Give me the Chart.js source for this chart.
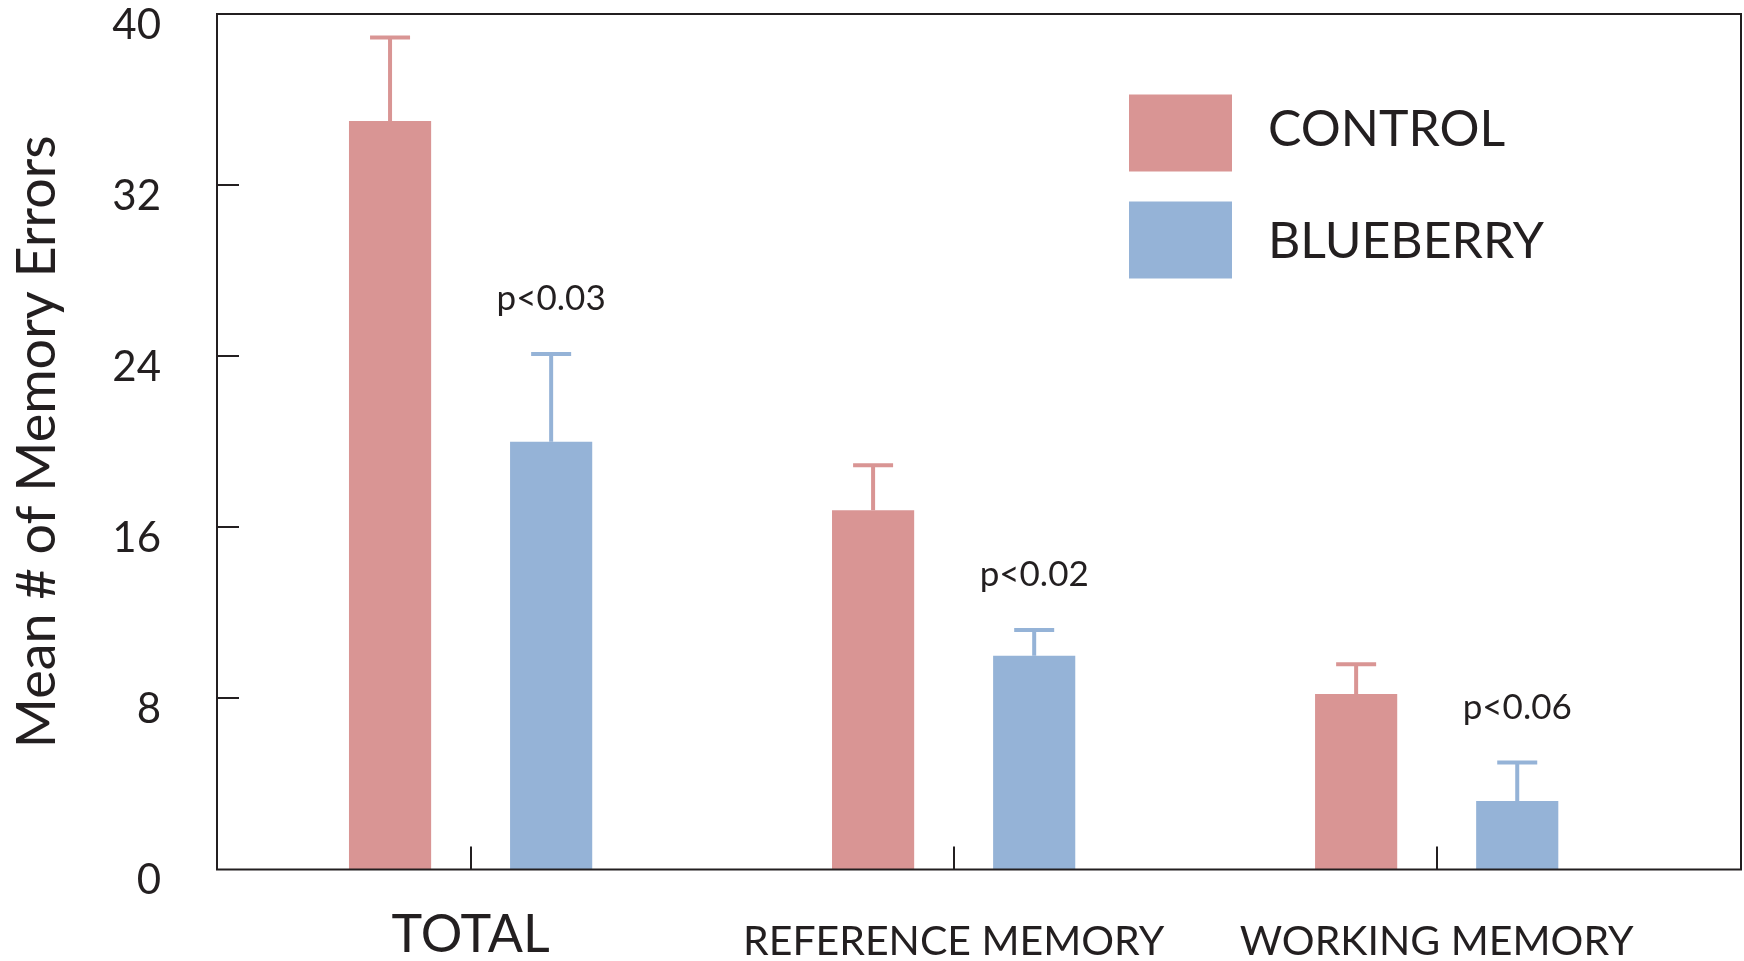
<!DOCTYPE html>
<html>
<head>
<meta charset="utf-8">
<script src="https://cdn.jsdelivr.net/npm/chart.js@4.4.0/dist/chart.umd.min.js"></script>
<style>
    html, body { margin: 0; padding: 0; background: #fff; }
    #wrap { width: 1744px; height: 961px; position: relative; }
</style>
</head>
<body>
<div id="wrap"><canvas id="grafico"></canvas></div>
<script>
const categories = ['TOTAL', 'REFERENCE MEMORY', 'WORKING MEMORY'];
const controlMeans = [35, 16.8, 8.2];
const controlErrors = [3.9, 2.1, 1.4];
const blueberryMeans = [20, 10, 3.2];
const blueberryErrors = [4.1, 1.2, 1.8];
const pValues = ['p<0.03', 'p<0.02', 'p<0.06'];
const yTicks = [0, 8, 16, 24, 32, 40];

const textColor = '#231f20';
const fontFamily = 'Lato, "Open Sans", sans-serif';

// barras de erro + valores de p
const errorBars = {
    id: 'errorBars',
    afterDatasetsDraw(chart) {
        const ctx = chart.ctx;
        const y = chart.scales.y;
        chart.data.datasets.forEach((ds, di) => {
            const meta = chart.getDatasetMeta(di);
            meta.data.forEach((bar, i) => {
                const top = y.getPixelForValue(ds.data[i].y + ds.errors[i]);
                ctx.save();
                ctx.strokeStyle = ds.backgroundColor;
                ctx.lineWidth = 4;
                ctx.beginPath();
                ctx.moveTo(bar.x, bar.y);
                ctx.lineTo(bar.x, top);
                ctx.moveTo(bar.x - 20, top);
                ctx.lineTo(bar.x + 20, top);
                ctx.stroke();
                if (ds.pLabels) {
                    ctx.fillStyle = textColor;
                    ctx.font = '35px ' + fontFamily;
                    ctx.textAlign = 'center';
                    ctx.textBaseline = 'alphabetic';
                    ctx.fillText(ds.pLabels[i], bar.x, top - 44);
                }
                ctx.restore();
            });
        });
    }
};

// moldura e marcas internas
const frame = {
    id: 'frame',
    afterDraw(chart) {
        const { ctx, chartArea: a } = chart;
        const x = chart.scales.x;
        const y = chart.scales.y;
        ctx.save();
        ctx.strokeStyle = textColor;
        ctx.lineWidth = 2;
        ctx.strokeRect(a.left, a.top, a.right - a.left, a.bottom - a.top);
        ctx.beginPath();
        yTicks.slice(1, -1).forEach(v => {
            const py = Math.round(y.getPixelForValue(v));
            ctx.moveTo(a.left, py);
            ctx.lineTo(a.left + 22, py);
        });
        categories.forEach((c, i) => {
            const px = Math.round(x.getPixelForValue(i + 1));
            ctx.moveTo(px, a.bottom);
            ctx.lineTo(px, a.bottom - 23);
        });
        ctx.stroke();

        // legenda
        chart.data.datasets.forEach((ds, i) => {
            const top = 94.5 + i * 107;
            ctx.fillStyle = ds.backgroundColor;
            ctx.fillRect(1129, top, 103, 77);
            ctx.fillStyle = textColor;
            ctx.font = '50px ' + fontFamily;
            ctx.textAlign = 'left';
            ctx.textBaseline = 'alphabetic';
            ctx.fillText(ds.label, 1268, 146 + i * 112);
        });
        ctx.restore();
    }
};

const ctx = document.getElementById('grafico').getContext('2d');
new Chart(ctx, {
    type: 'bar',
    data: {
        datasets: [
            {
                label: 'CONTROL',
                data: controlMeans.map((v, i) => ({ x: i + 1, y: v })),
                errors: controlErrors,
                backgroundColor: '#d99594',
            },
            {
                label: 'BLUEBERRY',
                data: blueberryMeans.map((v, i) => ({ x: i + 1, y: v })),
                errors: blueberryErrors,
                pLabels: pValues,
                backgroundColor: '#95b3d7',
            },
        ],
    },
    options: {
        responsive: true,
        maintainAspectRatio: false,
        animation: false,
        categoryPercentage: 0.667,
        barPercentage: 0.51,
        layout: { padding: { top: 14, right: 3, left: 0, bottom: 0 } },
        plugins: {
            legend: { display: false },
            tooltip: { enabled: false },
        },
        scales: {
            x: {
                type: 'linear',
                offset: false,
                min: 0.475,
                max: 3.63,
                grid: { display: false, drawTicks: false, offset: false },
                border: { display: false },
                afterBuildTicks: s => { s.ticks = categories.map((c, i) => ({ value: i + 1 })); },
                afterFit: s => {
                    s.height = 91.5;
                    s.paddingLeft = 0;
                    s.paddingRight = 0;
                },
                ticks: {
                    color: textColor,
                    padding: 66,
                    crossAlign: 'center',
                    maxRotation: 0,
                    autoSkip: false,
                    callback: v => categories[v - 1],
                    font: c => ({ family: fontFamily, size: c.index === 0 ? 52 : 41 }),
                },
            },
            y: {
                min: 0,
                max: 40,
                grid: { display: false, drawTicks: false },
                border: { display: false },
                afterBuildTicks: s => { s.ticks = yTicks.map(v => ({ value: v })); },
                afterFit: s => {
                    s.width = 217;
                    s.paddingTop = 0;
                    s.paddingBottom = 0;
                },
                ticks: {
                    color: textColor,
                    padding: 56,
                    labelOffset: 11,
                    font: { family: fontFamily, size: 42 },
                },
                title: {
                    display: true,
                    text: 'Mean # of Memory Errors',
                    color: textColor,
                    padding: { top: 5, bottom: 0 },
                    font: { family: fontFamily, size: 54 },
                },
            },
        },
    },
    plugins: [errorBars, frame],
});
</script>
</body>
</html>
